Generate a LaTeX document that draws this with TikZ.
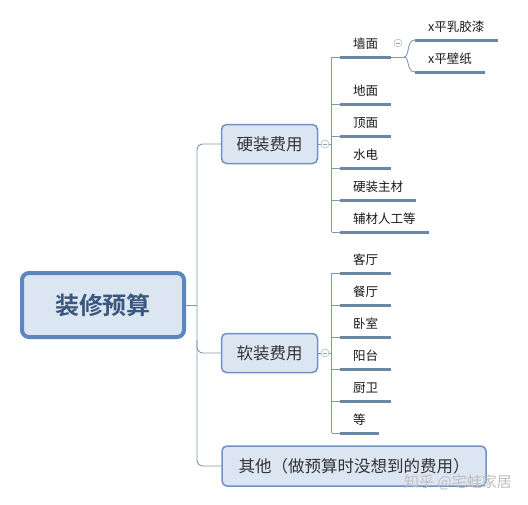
\documentclass[tikz,border=0pt]{standalone}
\usepackage{fontspec}
\setmainfont{Noto Sans CJK SC}[BoldFont={Noto Sans CJK SC Bold}]
\usetikzlibrary{positioning}
\definecolor{boxfill}{HTML}{DCE6F3}
\definecolor{boxline}{HTML}{7192BE}
\definecolor{rootline}{HTML}{5B87C1}
\definecolor{roottext}{HTML}{3A577E}
\definecolor{linkcol}{HTML}{8298B0}
\definecolor{ulinecol}{HTML}{6C86A8}
\definecolor{foldcol}{HTML}{8FA3BA}
\tikzset{every node/.style={font=\fontsize{12.5}{15}\selectfont},
  rootbox/.style={draw=rootline, line width=4pt, fill=boxfill, rounded corners=7pt,
    minimum width=162pt, minimum height=64pt, text=roottext,
    font=\fontsize{24}{28}\selectfont\bfseries},
  topicbox/.style={draw=boxline, line width=1.5pt, fill=boxfill, rounded corners=5pt,
    minimum width=96pt, minimum height=39pt, text=black!80,
    font=\fontsize{16.5}{20}\selectfont},
  leaf/.style={anchor=south west, inner xsep=13pt, inner ysep=7pt, text=black!90},
  uline/.style={line width=3pt, draw=ulinecol},
  link/.style={draw=linkcol, line width=0.9pt},
  fold/.style={circle, draw=foldcol, fill=white, inner sep=0pt, minimum size=8pt,
    path picture={\draw[foldcol] ([xshift=1.8pt]path picture bounding box.west)
      -- ([xshift=-1.8pt]path picture bounding box.east);}}}

\begin{document}
\begin{tikzpicture}[x=1pt, y=-1pt]
  \useasboundingbox[fill=white] (0,0) rectangle (528,504);
  % main topics
  \node[rootbox] (root) at (103,305) {装修预算};
  \node[topicbox] (hard) at (269.5,144) {硬装费用};
  \node[topicbox] (soft) at (269.5,353) {软装费用};
  \node[topicbox, minimum width=264pt, minimum height=40pt] (other) at (354,466)
    {其他（做预算时没想到的费用）};
  % trunk
  \coordinate (tr) at (197,305);
  \coordinate (tb) at (197,340);
  \draw[link] (root.east) -- (tr);
  \draw[link, rounded corners=6pt] (hard.west) -| (tr) |- (other.west);
  \draw[link, rounded corners=6pt] (tb) |- (soft.west);
  % hard decoration leaves
  \node[fold] (hfold) at (325,144) {};
  \coordinate (hs) at (331.5,144);
  \draw[link] (hard.east) -- (hfold) -- (hs);
  \foreach \i/\y/\t in {1/57/墙面, 2/104/地面, 3/136/顶面, 4/168/水电, 5/200/硬装主材, 6/232/辅材人工等}
  {
    \node[leaf] (hl\i) at (340,\y) {\t};
    \draw[uline] (hl\i.south west) -- (hl\i.south east);
    \draw[link] (hs |- hl\i.south west) -- (hl\i.south west);
  }
  \draw[link] (hs |- hl1.south west) -- (hs |- hl6.south west);
  % wall
  \node[fold] (wfold) at (398,43) {};
  \coordinate (wj) at (404,57);
  \node[leaf] (wl1) at (415,40) {x平乳胶漆};
  \node[leaf] (wl2) at (415,72) {x平壁纸};
  \draw[uline] (wl1.south west) -- (wl1.south east);
  \draw[uline] (wl2.south west) -- (wl2.south east);
  \draw[link] (hl1.south east) -- (wj);
  \draw[link] (wj) .. controls (410,57) and (406,40) .. (wl1.south west);
  \draw[link] (wj) .. controls (410,57) and (406,72) .. (wl2.south west);
  % soft decoration leaves
  \node[fold] (sfold) at (325,353) {};
  \coordinate (ss) at (331.5,353);
  \draw[link] (soft.east) -- (sfold) -- (ss);
  \foreach \i/\y/\t in {1/273/客厅, 2/305/餐厅, 3/337/卧室, 4/369/阳台, 5/401/厨卫, 6/433/等}
  {
    \node[leaf] (sl\i) at (340,\y) {\t};
    \draw[uline] (sl\i.south west) -- (sl\i.south east);
    \draw[link] (ss |- sl\i.south west) -- (sl\i.south west);
  }
  \draw[link] (ss |- sl1.south west) -- (ss |- sl6.south west);
  % watermark
  \node[text=black!25, font=\fontsize{15}{18}\selectfont] (wmark) at (458,482) {知乎 @宅蛙家居};
\end{tikzpicture}
\end{document}
